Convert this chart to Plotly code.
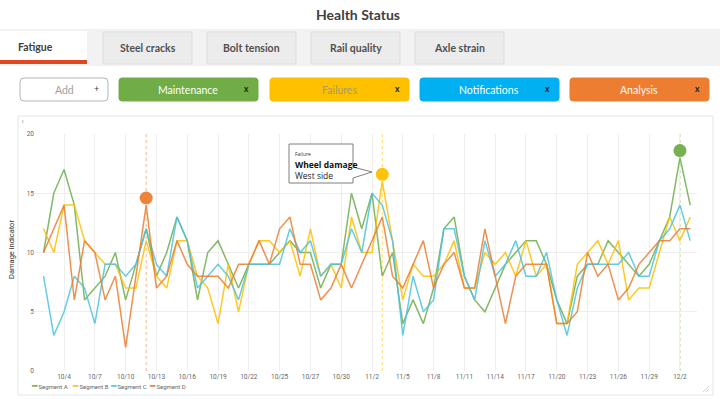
import plotly.graph_objects as go

W, H = 720, 399

# ---------------- data ----------------
dates = ([f"10/{d}" for d in range(2, 26)] + ["10/26", "10/26"] +
         [f"10/{d}" for d in range(27, 32)] + [f"11/{d}" for d in range(1, 31)] +
         [f"12/{d}" for d in range(1, 4)])

tick_labels = ["10/4", "10/7", "10/10", "10/13", "10/16", "10/19", "10/22", "10/25",
               "10/27", "10/30", "11/2", "11/5", "11/8", "11/11", "11/14", "11/17",
               "11/20", "11/23", "11/26", "11/29", "12/2"]

seg_a = [10, 15, 17, 14, 6, 7, 8, 10, 6, 9, 12, 8, 10, 13, 11, 6, 10, 11, 9, 7,
         9, 9, 9, 10, 11, 10, 10, 7, 9, 9, 15, 12, 15, 8, 10, 4, 6, 4, 7, 12,
         13, 8, 6, 5, 7, 9, 10, 11, 11, 9, 6, 4, 8, 9, 9, 11, 10, 9, 8, 9,
         11, 13, 18, 14]
seg_b = [12, 10, 14, 14, 11, 10, 9, 9, 7, 7, 11, 8, 7, 11, 11, 8, 7, 4, 9, 5,
         9, 11, 11, 10, 11, 8, 12, 8, 9, 7, 13, 10, 10, 16, 11, 6, 9, 8, 8, 9,
         11, 7, 7, 10, 9, 10, 8, 11, 8, 9, 4, 4, 9, 10, 11, 9, 11, 6, 7, 7,
         10, 13, 11, 13]
seg_c = [8, 3, 5, 8, 7, 4, 9, 9, 8, 9, 12, 9, 8, 13, 11, 7, 8, 9, 8, 6,
         9, 9, 9, 9, 12, 10, 11, 8, 9, 9, 12, 10, 15, 14, 11, 3, 8, 5, 6, 12,
         12, 8, 6, 11, 8, 9, 11, 8, 8, 10, 6, 3, 7, 9, 9, 9, 9, 10, 8, 8,
         11, 12, 14, 11]
seg_d = [10, 12, 14, 6, 11, 10, 6, 8, 2, 8, 14, 7, 8, 11, 9, 8, 8, 8, 7, 9,
         9, 11, 9, 12, 13, 9, 9, 6, 7, 9, 7, 9, 11, 13, 8, 7, 9, 11, 7, 9,
         10, 7, 7, 12, 8, 4, 8, 9, 9, 9, 4, 4, 5, 10, 8, 9, 6, 7, 9, 10,
         11, 11, 12, 12]

series_names = ["Segment A", "Segment B", "Segment C", "Segment D"]
series_colors = ["#6fad4e", "#ffc000", "#4dc3e0", "#ed7d31"]

event_dates = ["10/12", "11/3", "12/2"]
event_values = [14.6, 16.6, 18.6]
event_colors = ["#ed7d31", "#ffc000", "#70ad47"]

tabs = ["Fatigue", "Steel cracks", "Bolt tension", "Rail quality", "Axle strain"]
buttons = ["Maintenance", "Failures", "Notifications", "Analysis"]
button_colors = ["#70ad47", "#ffc000", "#00b0f0", "#ed7d31"]
button_text_colors = ["#ffffff", "#a89a6a", "#ffffff", "#ffffff"]

# ---------------- helpers ----------------
def px(x):
    return x / W

def py(y):
    return 1 - y / H

def rrect(x0, y0, x1, y1, r):
    return (f"M {px(x0 + r)},{py(y0)} L {px(x1 - r)},{py(y0)} "
            f"Q {px(x1)},{py(y0)} {px(x1)},{py(y0 + r)} L {px(x1)},{py(y1 - r)} "
            f"Q {px(x1)},{py(y1)} {px(x1 - r)},{py(y1)} L {px(x0 + r)},{py(y1)} "
            f"Q {px(x0)},{py(y1)} {px(x0)},{py(y1 - r)} L {px(x0)},{py(y0 + r)} "
            f"Q {px(x0)},{py(y0)} {px(x0 + r)},{py(y0)} Z")

xs = list(range(len(dates)))
fig = go.Figure()

for name, vals, col in zip(series_names, [seg_a, seg_b, seg_c, seg_d], series_colors):
    fig.add_trace(go.Scatter(x=xs, y=vals, mode="lines", name=name, showlegend=False,
                             line=dict(color=col, width=1.5), opacity=0.85))

ev_x = [dates.index(d) for d in event_dates]
fig.add_trace(go.Scatter(x=ev_x, y=event_values, mode="markers", showlegend=False,
                         marker=dict(color=event_colors, size=13, opacity=0.95,
                                     line=dict(width=0))))

shapes = []
ann = []
FONT = "Lato, Open Sans, sans-serif"

# event marker lines
for x, c in zip(ev_x, event_colors):
    shapes.append(dict(type="line", xref="x", yref="y", x0=x, x1=x, y0=0, y1=20,
                       line=dict(color=c, width=0.8, dash="dot"), opacity=0.7, layer="below"))

# title
ann.append(dict(x=px(358), y=py(14), text="<b>Health Status</b>", font=dict(size=14, color="#404040", family=FONT)))
# tab band
shapes.append(dict(type="rect", xref="paper", yref="paper", x0=0, x1=1, y0=py(66), y1=py(29),
                   fillcolor="#f2f2f2", line=dict(width=0)))
tab_x = [(0, 87), (103, 192), (207, 296), (311, 400), (415, 504)]
for i, (t, (a, b)) in enumerate(zip(tabs, tab_x)):
    if i == 0:
        shapes.append(dict(type="rect", xref="paper", yref="paper", x0=px(a), x1=px(b), y0=py(64), y1=py(31),
                           fillcolor="#ffffff", line=dict(width=0)))
        shapes.append(dict(type="rect", xref="paper", yref="paper", x0=px(a), x1=px(b), y0=py(64), y1=py(60),
                           fillcolor="#e0461f", line=dict(width=0)))
        ann.append(dict(x=px((a + b) / 2 - 8), y=py(47), text="<b>" + t + "</b>",
                        font=dict(size=10.5, color="#404040", family=FONT)))
    else:
        shapes.append(dict(type="rect", xref="paper", yref="paper", x0=px(a), x1=px(b), y0=py(64), y1=py(32),
                           fillcolor="#ececec", line=dict(color="#dedede", width=1)))
        ann.append(dict(x=px((a + b) / 2), y=py(48), text="<b>" + t + "</b>",
                        font=dict(size=10.5, color="#505050", family=FONT)))

# buttons
shapes.append(dict(type="path", xref="paper", yref="paper", path=rrect(20, 78, 108, 101, 4),
                   fillcolor="#ffffff", line=dict(color="#b5b5b5", width=1)))
ann.append(dict(x=px(64), y=py(90), text="Add", font=dict(size=10.5, color="#a0a0a0", family=FONT)))
ann.append(dict(x=px(96), y=py(89), text="+", font=dict(size=9, color="#404040", family=FONT)))
btn_x = [(119, 258), (270, 409), (420, 559), (570, 709)]
for t, (a, b), c, tc in zip(buttons, btn_x, button_colors, button_text_colors):
    shapes.append(dict(type="path", xref="paper", yref="paper", path=rrect(a, 78, b, 101, 3),
                       fillcolor=c, line=dict(color=c, width=1)))
    ann.append(dict(x=px(a + 69), y=py(90), text=t, font=dict(size=10.5, color=tc, family=FONT)))
    ann.append(dict(x=px(b - 12), y=py(89), text="<b>x</b>", font=dict(size=8.5, color="#202020", family=FONT)))

# chart container
shapes.append(dict(type="rect", xref="paper", yref="paper", x0=px(18), x1=px(713), y0=py(395), y1=py(116),
                   fillcolor="rgba(0,0,0,0)", line=dict(color="#e1e6ec", width=1)))
ann.append(dict(x=px(23), y=py(121), text="ı", font=dict(size=6, color="#888", family="Roboto")))
shapes.append(dict(type="line", xref="paper", yref="paper", x0=px(703), x1=px(709), y0=py(392), y1=py(386),
                   line=dict(color="#c8c8c8", width=0.8)))
shapes.append(dict(type="line", xref="paper", yref="paper", x0=px(706), x1=px(709), y0=py(392), y1=py(389),
                   line=dict(color="#c8c8c8", width=0.8)))

# y axis title
ann.append(dict(x=px(11), y=py(250), text="Damage indicator", textangle=-90,
                font=dict(size=7.5, color="#333333", family="Roboto")))

# legend (compact, drawn as text)
legend_x = [29, 70, 108, 147]
for lx, name, col in zip(legend_x, series_names, series_colors):
    ann.append(dict(x=px(lx), y=py(386), xanchor="left",
                    text=f"<span style='color:{col};font-size:9px'>━</span> {name}",
                    font=dict(size=6, color="#666", family="Roboto")))

# callout
cp = (f"M {px(289)},{py(144)} L {px(353)},{py(144)} L {px(353)},{py(167)} "
      f"L {px(372)},{py(172)} L {px(353)},{py(178)} L {px(353)},{py(183)} "
      f"L {px(289)},{py(183)} Z")
shapes.append(dict(type="path", xref="paper", yref="paper", path=cp,
                   fillcolor="#ffffff", line=dict(color="#7f7f7f", width=1)))
ann.append(dict(x=px(293), y=py(154), xanchor="left", text="Failure",
                font=dict(size=5, color="#333", family="Open Sans")))
ann.append(dict(x=px(293), y=py(164), xanchor="left", text="<b>Wheel damage</b>",
                font=dict(size=8.5, color="#111", family="Open Sans")))
ann.append(dict(x=px(293), y=py(175), xanchor="left", text="West side",
                font=dict(size=8.5, color="#222", family="Open Sans")))

for a_ in ann:
    a_.setdefault("xref", "paper")
    a_.setdefault("yref", "paper")
    a_.setdefault("showarrow", False)
    a_.setdefault("xanchor", "center")
    a_.setdefault("yanchor", "middle")

fig.update_layout(
    width=W, height=H,
    margin=dict(l=0, r=0, t=0, b=0),
    paper_bgcolor="#ffffff", plot_bgcolor="#ffffff",
    shapes=shapes, annotations=ann,
    font=dict(family="Roboto", color="#666"),
    xaxis=dict(domain=[px(35), px(697)], range=[-0.83, 63.66],
               tickvals=[dates.index(t) for t in tick_labels], ticktext=tick_labels,
               showgrid=True, gridcolor="#eeeeee", gridwidth=1, zeroline=False,
               showline=False, ticks="", tickfont=dict(size=6.5, color="#666"),
               automargin=False, fixedrange=True),
    yaxis=dict(domain=[py(371), py(134)], range=[0, 20], tickvals=[0, 5, 10, 15, 20],
               showgrid=True, gridcolor="#eeeeee", gridwidth=1, zeroline=False,
               showline=False, ticks="", tickfont=dict(size=6.5, color="#666"),
               automargin=False, fixedrange=True),
    showlegend=False,
)

fig.write_html("out.html", config={"displayModeBar": False},
               post_script="document.body.style.margin='0';document.body.style.overflow='hidden';")
